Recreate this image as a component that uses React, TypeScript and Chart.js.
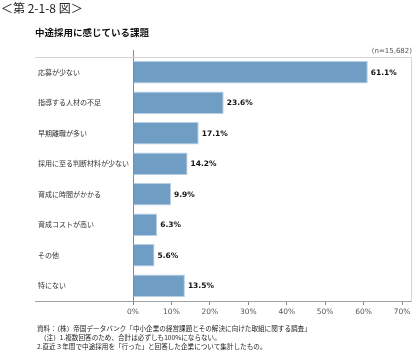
import React, { useEffect, useRef } from "react";
import { Chart, registerables } from "chart.js";

Chart.register(...registerables);

const categories: string[] = [
  "応募が少ない",
  "指導する人材の不足",
  "早期離職が多い",
  "採用に至る判断材料が少ない",
  "育成に時間がかかる",
  "育成コストが高い",
  "その他",
  "特にない",
];
const values: number[] = [61.1, 23.6, 17.1, 14.2, 9.9, 6.3, 5.6, 13.5];
const xTicks: number[] = [0, 10, 20, 30, 40, 50, 60, 70];

const titleText = "＜第 2-1-8 図＞";
const subtitleText = "中途採用に感じている課題";
const nText = "(n=15,682)";
const notes: string[] = [
  "資料：（株）帝国データバンク「中小企業の経営課題とその解決に向けた取組に関する調査」",
  "（注）1.複数回答のため、合計は必ずしも100%にならない。",
  "2.直近３年間で中途採用を「行った」と回答した企業について集計したもの。",
];

const JP = '"Noto Sans CJK JP", "Noto Sans", sans-serif';
const DV = '"DejaVu Sans", Verdana, sans-serif';

export default function App() {
  const ref = useRef<HTMLCanvasElement | null>(null);

  useEffect(() => {
    const canvas = ref.current;
    if (!canvas) return;

    const framePlugin = {
      id: "frame",
      beforeDatasetsDraw(chart: any) {
        const { ctx, chartArea } = chart;
        ctx.save();
        ctx.lineWidth = 1;
        ctx.strokeStyle = "#d4d4d4";
        ctx.beginPath();
        ctx.moveTo(35, Math.round(chartArea.top) + 0.5);
        ctx.lineTo(411.5, Math.round(chartArea.top) + 0.5);
        ctx.moveTo(411.5, Math.round(chartArea.top) + 0.5);
        ctx.lineTo(411.5, Math.round(chartArea.bottom));
        ctx.stroke();
        ctx.strokeStyle = "#a0a0a0";
        ctx.beginPath();
        ctx.moveTo(35, Math.round(chartArea.bottom) + 0.5);
        ctx.lineTo(chartArea.left, Math.round(chartArea.bottom) + 0.5);
        ctx.moveTo(chartArea.right, Math.round(chartArea.bottom) + 0.5);
        ctx.lineTo(411.5, Math.round(chartArea.bottom) + 0.5);
        ctx.stroke();
        ctx.strokeStyle = "#888";
        ctx.beginPath();
        ctx.moveTo(Math.round(chartArea.left) + 0.5, chartArea.top - 7);
        ctx.lineTo(Math.round(chartArea.left) + 0.5, chartArea.top);
        ctx.stroke();
        ctx.restore();
      },
      afterDatasetsDraw(chart: any) {
        const { ctx } = chart;
        const meta = chart.getDatasetMeta(0);
        ctx.save();
        ctx.font = `bold 7.5px ${DV}`;
        ctx.fillStyle = "#111";
        ctx.textAlign = "left";
        ctx.textBaseline = "middle";
        meta.data.forEach((bar: any, i: number) => {
          const v = chart.data.datasets[0].data[i] as number;
          ctx.fillText(v.toFixed(1) + "%", bar.x + 3, bar.y + 0.5);
        });
        ctx.restore();
      },
    };

    const chart = new Chart(canvas, {
      type: "bar",
      data: {
        labels: categories,
        datasets: [
          {
            data: values,
            backgroundColor: "#6f9dc3",
            borderColor: "#b7cfe3",
            borderWidth: 1,
            barPercentage: 0.74,
            categoryPercentage: 1,
          },
        ],
      },
      options: {
        indexAxis: "y",
        responsive: false,
        animation: false,
        devicePixelRatio: 1,
        layout: { padding: { left: 38, right: 18, top: 57, bottom: 38 } },
        plugins: {
          legend: { display: false },
          tooltip: { enabled: false },
          title: { display: false },
        },
        scales: {
          x: {
            type: "linear",
            min: xTicks[0],
            max: xTicks[xTicks.length - 1],
            afterBuildTicks: (scale: any) => {
              scale.ticks = xTicks.map((v) => ({ value: v }));
            },
            afterFit: (scale: any) => {
              scale.height = 20;
            },
            ticks: {
              callback: (v: any) => v + "%",
              font: { family: DV, size: 7.5 },
              color: "#555",
              padding: 3,
              maxRotation: 0,
            },
            grid: {
              drawOnChartArea: false,
              drawTicks: true,
              tickLength: 4,
              color: "#888",
            },
            border: { display: true, color: "#a0a0a0" },
          },
          y: {
            afterFit: (scale: any) => {
              scale.width = 95;
            },
            ticks: {
              crossAlign: "far",
              font: { family: JP, size: 7 },
              color: "#333",
            },
            grid: { display: false },
            border: { display: true, color: "#888" },
          },
        },
      },
      plugins: [framePlugin],
    } as any);

    return () => chart.destroy();
  }, []);

  return (
    <div
      style={{
        position: "absolute",
        left: 0,
        top: 0,
        width: 420,
        height: 359,
        background: "#fff",
        overflow: "hidden",
      }}
    >
      <canvas
        ref={ref}
        width={420}
        height={359}
        style={{ position: "absolute", left: 0, top: 0, width: 420, height: 359 }}
      />
      <div
        style={{
          position: "absolute",
          left: 1,
          top: 0,
          fontFamily: JP,
          fontSize: 12,
          lineHeight: "16px",
          color: "#222",
          whiteSpace: "nowrap",
        }}
      >
        {titleText}
      </div>
      <div
        style={{
          position: "absolute",
          left: 35,
          top: 25,
          fontFamily: JP,
          fontSize: 9.5,
          fontWeight: "bold",
          lineHeight: "14px",
          color: "#111",
          whiteSpace: "nowrap",
        }}
      >
        {subtitleText}
      </div>
      <div
        style={{
          position: "absolute",
          right: 8,
          top: 45,
          fontFamily: DV,
          fontSize: 7,
          lineHeight: "12px",
          color: "#555",
          whiteSpace: "nowrap",
        }}
      >
        {nText}
      </div>
      <div
        style={{
          position: "absolute",
          left: 37,
          top: 324,
          fontFamily: JP,
          fontSize: 6.6,
          lineHeight: "9px",
          color: "#222",
          whiteSpace: "nowrap",
        }}
      >
        {notes.map((t, i) => (
          <div key={i} style={{ paddingLeft: i === 1 ? 3 : 0 }}>
            {t}
          </div>
        ))}
      </div>
    </div>
  );
}
